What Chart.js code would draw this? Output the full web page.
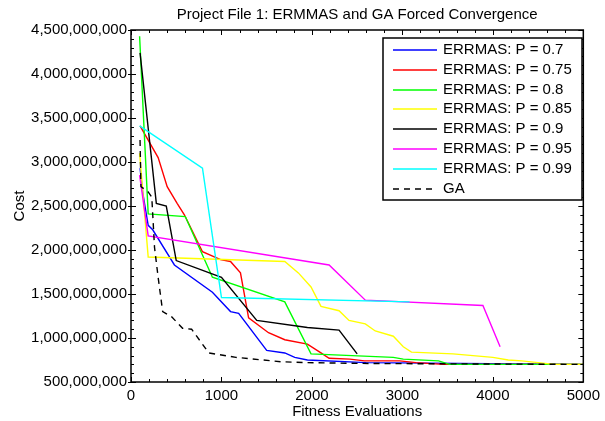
<!DOCTYPE html>
<html>
<head>
<meta charset="utf-8">
<script src="https://cdn.jsdelivr.net/npm/chart.js@4.4.0/dist/chart.umd.min.js"></script>
<style>
  html, body { margin: 0; padding: 0; background: #fff; }
  #wrap { width: 605px; height: 421px; }
</style>
</head>
<body>
<div id="wrap"><canvas id="costChart" width="605" height="421"></canvas></div>
<script>
// Fitness evaluations (x) and cost (y), one pair of arrays per run
const evalsP070 = [100, 130, 190, 240, 480, 900, 1100, 1190, 1500, 1700, 1810, 1950, 2600, 5000];
const costP070 = [2.93e9, 2.65e9, 2.28e9, 2.23e9, 1.83e9, 1.52e9, 1.30e9, 1.28e9, 0.86e9, 0.83e9, 0.78e9, 0.75e9, 0.72e9, 0.70e9];

const evalsP075 = [100, 300, 400, 510, 590, 790, 990, 1100, 1210, 1300, 1520, 1700, 1950, 2100, 2190, 2420, 2580, 2970, 3150, 3450, 5000];
const costP075 = [3.41e9, 3.05e9, 2.72e9, 2.53e9, 2.40e9, 1.98e9, 1.89e9, 1.87e9, 1.74e9, 1.23e9, 1.06e9, 0.98e9, 0.93e9, 0.83e9, 0.77e9, 0.76e9, 0.74e9, 0.74e9, 0.72e9, 0.70e9, 0.70e9];

const evalsP080 = [95, 190, 600, 900, 1700, 1990, 2900, 3010, 3400, 3520, 5000];
const costP080 = [4.43e9, 2.41e9, 2.38e9, 1.69e9, 1.41e9, 0.82e9, 0.78e9, 0.76e9, 0.74e9, 0.70e9, 0.70e9];

const evalsP085 = [95, 190, 1700, 1850, 1990, 2100, 2300, 2410, 2590, 2700, 2900, 3010, 3100, 3560, 4000, 4170, 4320, 4680, 5000];
const costP085 = [3.10e9, 1.92e9, 1.87e9, 1.74e9, 1.58e9, 1.36e9, 1.31e9, 1.20e9, 1.16e9, 1.08e9, 1.02e9, 0.90e9, 0.84e9, 0.82e9, 0.78e9, 0.75e9, 0.74e9, 0.70e9, 0.70e9];

const evalsP090 = [100, 280, 390, 500, 1000, 1390, 1950, 2300, 2500];
const costP090 = [4.24e9, 2.53e9, 2.50e9, 1.88e9, 1.69e9, 1.20e9, 1.12e9, 1.09e9, 0.82e9];

const evalsP095 = [95, 190, 2190, 2590, 3890, 4080];
const costP095 = [2.85e9, 2.16e9, 1.83e9, 1.43e9, 1.37e9, 0.90e9];

const evalsP099 = [95, 790, 1000, 3080];
const costP099 = [3.41e9, 2.93e9, 1.46e9, 1.41e9];

const evalsGA = [100, 110, 190, 230, 260, 300, 350, 450, 570, 670, 860, 1160, 1660, 1950, 2650, 5000];
const costGA = [3.25e9, 2.72e9, 2.66e9, 2.60e9, 2.03e9, 1.69e9, 1.30e9, 1.24e9, 1.11e9, 1.10e9, 0.83e9, 0.78e9, 0.73e9, 0.72e9, 0.71e9, 0.70e9];

const seriesLabels = ['ERRMAS: P = 0.7', 'ERRMAS: P = 0.75', 'ERRMAS: P = 0.8', 'ERRMAS: P = 0.85',
  'ERRMAS: P = 0.9', 'ERRMAS: P = 0.95', 'ERRMAS: P = 0.99', 'GA'];
const seriesColors = ['#0000ff', '#ff0000', '#00ff00', '#ffff00', '#000000', '#ff00ff', '#00ffff', '#000000'];
const seriesX = [evalsP070, evalsP075, evalsP080, evalsP085, evalsP090, evalsP095, evalsP099, evalsGA];
const seriesY = [costP070, costP075, costP080, costP085, costP090, costP095, costP099, costGA];

const FONT = '"Liberation Sans", Arial, sans-serif';
Chart.defaults.font.family = FONT;
Chart.defaults.font.size = 15;
Chart.defaults.color = '#000';

function pairs(xs, ys) {
  return xs.map((x, i) => ({ x: x, y: ys[i] }));
}

const datasets = seriesLabels.map((label, i) => ({
  label: label,
  data: pairs(seriesX[i], seriesY[i]),
  borderColor: seriesColors[i],
  backgroundColor: seriesColors[i],
  borderWidth: 1.4,
  borderDash: label === 'GA' ? [6, 5] : [],
  pointRadius: 0,
  tension: 0,
  fill: false,
  order: seriesLabels.length - i // later runs drawn on top
}));

// frame, inward ticks, title and the boxed legend
const decorPlugin = {
  id: 'decor',
  afterDraw(chart) {
    const { ctx, chartArea: a, scales } = chart;
    const xs = scales.x, ys = scales.y;
    ctx.save();
    ctx.strokeStyle = '#000';
    ctx.lineWidth = 1;
    const seg = (x1, y1, x2, y2) => { ctx.beginPath(); ctx.moveTo(x1, y1); ctx.lineTo(x2, y2); ctx.stroke(); };

    for (let v = 0; v <= 5000; v += 200) {
      const px = Math.round(xs.getPixelForValue(v)) + 0.5;
      const len = v % 1000 === 0 ? 5 : 3;
      seg(px, a.bottom, px, a.bottom - len);
      seg(px, a.top, px, a.top + len);
    }
    for (let v = 500e6; v <= 4500e6; v += 100e6) {
      const py = Math.round(ys.getPixelForValue(v)) + 0.5;
      const major = v % 500e6 === 0;
      const len = major ? 5 : 3;
      seg(a.left - (major ? 3 : 0), py, a.left + len, py);
      seg(a.right, py, a.right - len, py);
    }

    ctx.lineWidth = 1.5;
    ctx.strokeRect(a.left, a.top, a.right - a.left, a.bottom - a.top);

    // title centred over the plot area
    ctx.fillStyle = '#000';
    ctx.font = '15px ' + FONT;
    ctx.textAlign = 'center';
    ctx.textBaseline = 'middle';
    ctx.fillText('Project File 1: ERMMAS and GA Forced Convergence', (a.left + a.right) / 2, 15);

    // legend box
    const box = { l: 383, t: 38, r: 582, b: 200 };
    ctx.fillStyle = '#fff';
    ctx.fillRect(box.l, box.t, box.r - box.l, box.b - box.t);
    ctx.lineWidth = 1.5;
    ctx.strokeStyle = '#000';
    ctx.strokeRect(box.l, box.t, box.r - box.l, box.b - box.t);
    ctx.textAlign = 'left';
    chart.data.datasets.forEach((ds, i) => {
      const yy = Math.round(50 + i * 19.8);
      ctx.strokeStyle = ds.borderColor;
      ctx.lineWidth = 1.6;
      ctx.setLineDash(ds.borderDash);
      seg(393, yy, 437, yy);
      ctx.setLineDash([]);
      ctx.fillStyle = '#000';
      ctx.fillText(ds.label, 443, yy);
    });
    ctx.restore();
  }
};

new Chart(document.getElementById('costChart'), {
  type: 'line',
  data: { datasets: datasets },
  options: {
    responsive: false,
    devicePixelRatio: 1,
    animation: false,
    events: [],
    layout: { padding: { top: 30, right: 16, left: 0, bottom: 0 } },
    plugins: { legend: { display: false }, tooltip: { enabled: false }, title: { display: false } },
    scales: {
      x: {
        type: 'linear',
        min: 0,
        max: 5000,
        grid: { display: false, drawTicks: false },
        border: { display: false },
        ticks: { stepSize: 1000, padding: 5, maxRotation: 0, callback: (v) => String(v) },
        title: { display: true, text: 'Fitness Evaluations', padding: { top: 0, bottom: 0 } },
        afterFit: (s) => { s.height = 39; }
      },
      y: {
        type: 'linear',
        min: 500e6,
        max: 4500e6,
        grid: { display: false, drawTicks: false },
        border: { display: false },
        ticks: { stepSize: 500e6, padding: 4, callback: (v) => v.toLocaleString('en-US') },
        title: { display: true, text: 'Cost', padding: { top: 11, bottom: 0 } },
        afterFit: (s) => { s.width = 131; }
      }
    }
  },
  plugins: [decorPlugin]
});
</script>
</body>
</html>
